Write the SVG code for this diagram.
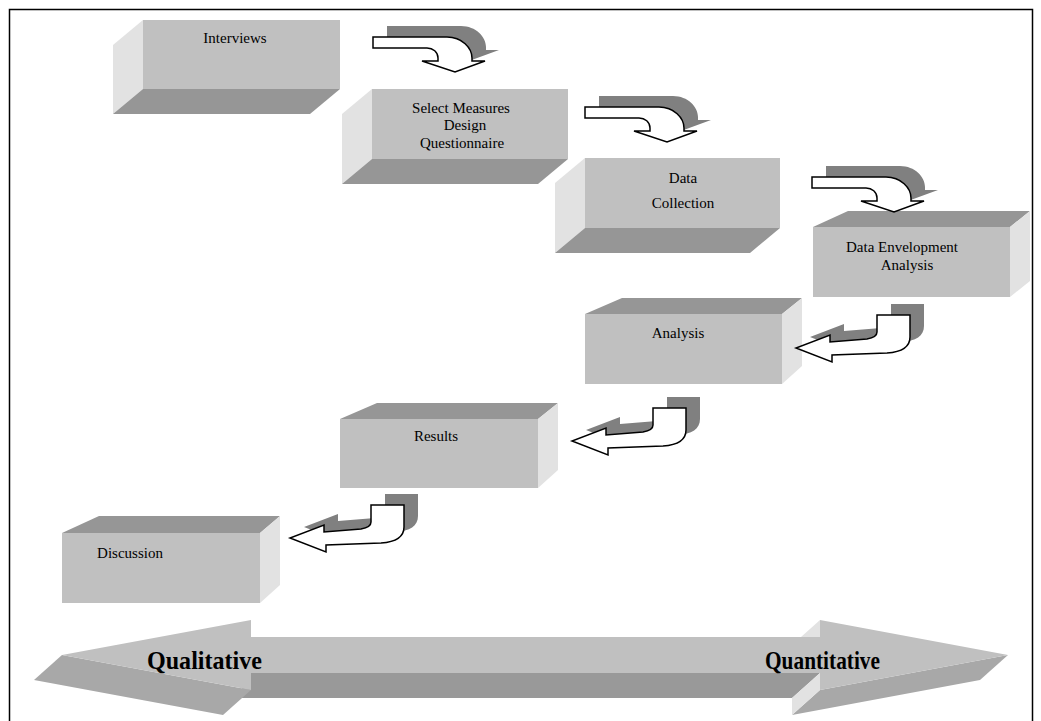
<svg xmlns="http://www.w3.org/2000/svg" width="1041" height="721" viewBox="0 0 1041 721">
<defs>
<style>
.front{fill:#c0c0c0}
.dark{fill:#969696}
.side{fill:#e2e2e2}
.lbl{font-family:"Liberation Serif","Times New Roman",serif;font-size:15px;fill:#000;text-anchor:middle}
.big{font-family:"Liberation Serif","Times New Roman",serif;font-size:25px;font-weight:bold;fill:#000}
.wa{fill:#fff;stroke:#000;stroke-width:1.5;stroke-linejoin:miter}
.sh{fill:#808080}
</style>
<path id="arrA" d="M0,0 L74,0 C89,0 99,11 99,21 L99,24 L112,24 L82,35 L49,24 L65,24 L65,21 C65,15 60,11 54,11 L0,11 Z"/>
<path id="arrB" d="M0,0 L33,0 L33,22 C33,32 25,37 10,38 L-45,40 L-45,47 L-81,33 L-47,20 L-47,27 L-10,24 C-4,23 0,21 0,17 Z"/>
</defs>
<rect x="0" y="0" width="1041" height="721" fill="#fff"/>
<rect x="9.5" y="9.5" width="1023" height="730" fill="none" stroke="#000" stroke-width="1.5"/>

<g id="scale">
<polygon fill="#999" points="251,673 820,673 792,698 236,698"/>
<polygon fill="#a8a8a8" points="62,655 251,690 223,715 34,680"/>
<polygon fill="#a8a8a8" points="1008,655 820,690 792,715 980,680"/>
<polygon class="side" points="820,620 820,637 801,637"/>
<polygon class="side" points="820,673 820,690 792,715 792,698"/>
<polygon class="front" points="62,655 251,620 251,637 820,637 820,620 1008,655 820,690 820,673 251,673 251,690"/>
<text class="big" x="147" y="669" textLength="115" lengthAdjust="spacingAndGlyphs">Qualitative</text>
<text class="big" x="765" y="669" textLength="115" lengthAdjust="spacingAndGlyphs">Quantitative</text>
</g>

<g id="interviews">
<polygon class="side" points="143,20 113,45 113,114 143,89"/>
<polygon class="dark" points="143,89 340,89 310,114 113,114"/>
<rect class="front" x="143" y="20" width="197" height="69"/>
<text class="lbl" x="235" y="43">Interviews</text>
</g>

<g id="select">
<polygon class="side" points="372,89 342,114 342,184 372,159"/>
<polygon class="dark" points="372,159 568,159 538,184 342,184"/>
<rect class="front" x="372" y="89" width="196" height="70"/>
<text class="lbl" x="461" y="113">Select Measures</text>
<text class="lbl" x="465" y="130">Design</text>
<text class="lbl" x="462" y="148">Questionnaire</text>
</g>

<g id="collection">
<polygon class="side" points="585,158 555,183 555,253 585,228"/>
<polygon class="dark" points="585,228 780,228 750,253 555,253"/>
<rect class="front" x="585" y="158" width="195" height="70"/>
<text class="lbl" x="683" y="183">Data</text>
<text class="lbl" x="683" y="208">Collection</text>
</g>

<g id="dea">
<polygon class="dark" points="813,227 848,211 1030,211 1010,227"/>
<polygon class="side" points="1010,227 1030,211 1030,281 1010,297"/>
<rect class="front" x="813" y="227" width="197" height="70"/>
<text class="lbl" x="902" y="252">Data Envelopment</text>
<text class="lbl" x="907" y="270">Analysis</text>
</g>

<g id="analysis">
<polygon class="dark" points="585,314 622,298 802,298 782,314"/>
<polygon class="side" points="782,314 802,298 802,366 782,384"/>
<rect class="front" x="585" y="314" width="197" height="70"/>
<text class="lbl" x="678" y="338">Analysis</text>
</g>

<g id="results">
<polygon class="dark" points="340,419 377,403 558,403 538,419"/>
<polygon class="side" points="538,419 558,403 558,470 538,488"/>
<rect class="front" x="340" y="419" width="198" height="69"/>
<text class="lbl" x="436" y="441">Results</text>
</g>

<g id="discussion">
<polygon class="dark" points="62,533 99,516 280,516 260,533"/>
<polygon class="side" points="260,533 280,516 280,585 260,603"/>
<rect class="front" x="62" y="533" width="198" height="70"/>
<text class="lbl" x="130" y="558">Discussion</text>
</g>

<g id="connectors">
<use href="#arrA" class="sh" transform="translate(387,26)"/>
<use href="#arrA" class="wa" transform="translate(373,37)"/>
<use href="#arrA" class="sh" transform="translate(599,96)"/>
<use href="#arrA" class="wa" transform="translate(585,107)"/>
<use href="#arrA" class="sh" transform="translate(826,166)"/>
<use href="#arrA" class="wa" transform="translate(812,177)"/>
<use href="#arrB" class="sh" transform="translate(891,304)"/>
<use href="#arrB" class="wa" transform="translate(877,315)"/>
<use href="#arrB" class="sh" transform="translate(667,397)"/>
<use href="#arrB" class="wa" transform="translate(653,408)"/>
<use href="#arrB" class="sh" transform="translate(385,494)"/>
<use href="#arrB" class="wa" transform="translate(371,505)"/>
</g>
</svg>
